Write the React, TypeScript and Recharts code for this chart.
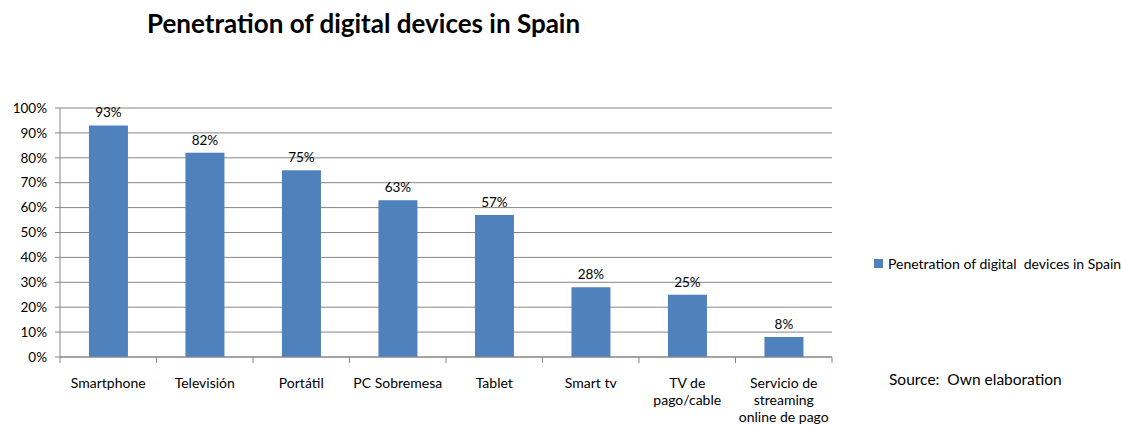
import { BarChart, Bar, XAxis, YAxis, CartesianGrid, LabelList } from 'recharts'

const categories = ['Smartphone', 'Televisión', 'Portátil', 'PC Sobremesa', 'Tablet', 'Smart tv', 'TV de\npago/cable', 'Servicio de\nstreaming\nonline de pago']
const penetration = [93, 82, 75, 63, 57, 28, 25, 8]
const yTicks = [0, 10, 20, 30, 40, 50, 60, 70, 80, 90, 100]

const seriesName = 'Penetration of digital  devices in Spain'
const font = 'Lato, "Open Sans", sans-serif'
const barColor = '#4F81BD'

const data = categories.map((name, i) => ({ name, value: penetration[i] }))

const CategoryTick = ({ x, y, payload, index }: any) => {
  const band = 772 / categories.length
  const lines = String(payload.value).split('\n')
  return (
    <g>
      <line x1={x + band / 2} x2={x + band / 2} y1={y - 8} y2={y - 2} stroke="#868686" />
      {index === 0 && <line x1={x - band / 2} x2={x - band / 2} y1={y - 8} y2={y - 2} stroke="#868686" />}
      <text x={x} y={y + 23} textAnchor="middle" fontSize={14} fill="#000" fontFamily={font}>
        {lines.map((l, i) => (
          <tspan key={i} x={x} dy={i === 0 ? 0 : 17}>{l}</tspan>
        ))}
      </text>
    </g>
  )
}

export default function App() {
  return (
    <div style={{ position: 'absolute', left: 0, top: 0, width: 1121, height: 425, background: '#fff', fontFamily: font, overflow: 'hidden' }}>
      <div style={{ position: 'absolute', left: 147, top: 7, fontSize: 26, fontWeight: 700, color: '#000', whiteSpace: 'nowrap' }}>
        Penetration of digital devices in Spain
      </div>
      <div style={{ position: 'absolute', left: 874, top: 255, fontSize: 14, color: '#000', whiteSpace: 'pre', display: 'flex', alignItems: 'center' }}>
        <span style={{ display: 'inline-block', width: 9, height: 9, background: barColor, marginRight: 5 }} />
        {seriesName}
      </div>
      <div style={{ position: 'absolute', left: 889, top: 370, fontSize: 15.5, color: '#000', whiteSpace: 'pre' }}>
        Source:  Own elaboration
      </div>
      <BarChart
        width={1121}
        height={425}
        data={data}
        margin={{ top: 108, right: 289, bottom: 38, left: 0 }}
        barCategoryGap="30%"
      >
        <CartesianGrid vertical={false} stroke="#868686" strokeWidth={1} />
        <XAxis
          dataKey="name"
          interval={0}
          height={30}
          tickLine={false}
          axisLine={{ stroke: '#868686' }}
          tick={<CategoryTick />}
        />
        <YAxis
          width={60}
          domain={[0, 100]}
          ticks={yTicks}
          interval={0}
          tickFormatter={(v) => `${v}%`}
          tickLine={{ stroke: '#868686' }}
          tickSize={5}
          axisLine={{ stroke: '#868686' }}
          tick={{ fontSize: 13.5, fill: '#000', fontFamily: font, dx: -6 }}
        />
        <Bar dataKey="value" name={seriesName} fill={barColor} isAnimationActive={false}>
          <LabelList
            dataKey="value"
            position="top"
            offset={8}
            formatter={(v: any) => `${v}%`}
            style={{ fontSize: 13.5, fill: '#000', fontFamily: font }}
          />
        </Bar>
      </BarChart>
    </div>
  )
}
